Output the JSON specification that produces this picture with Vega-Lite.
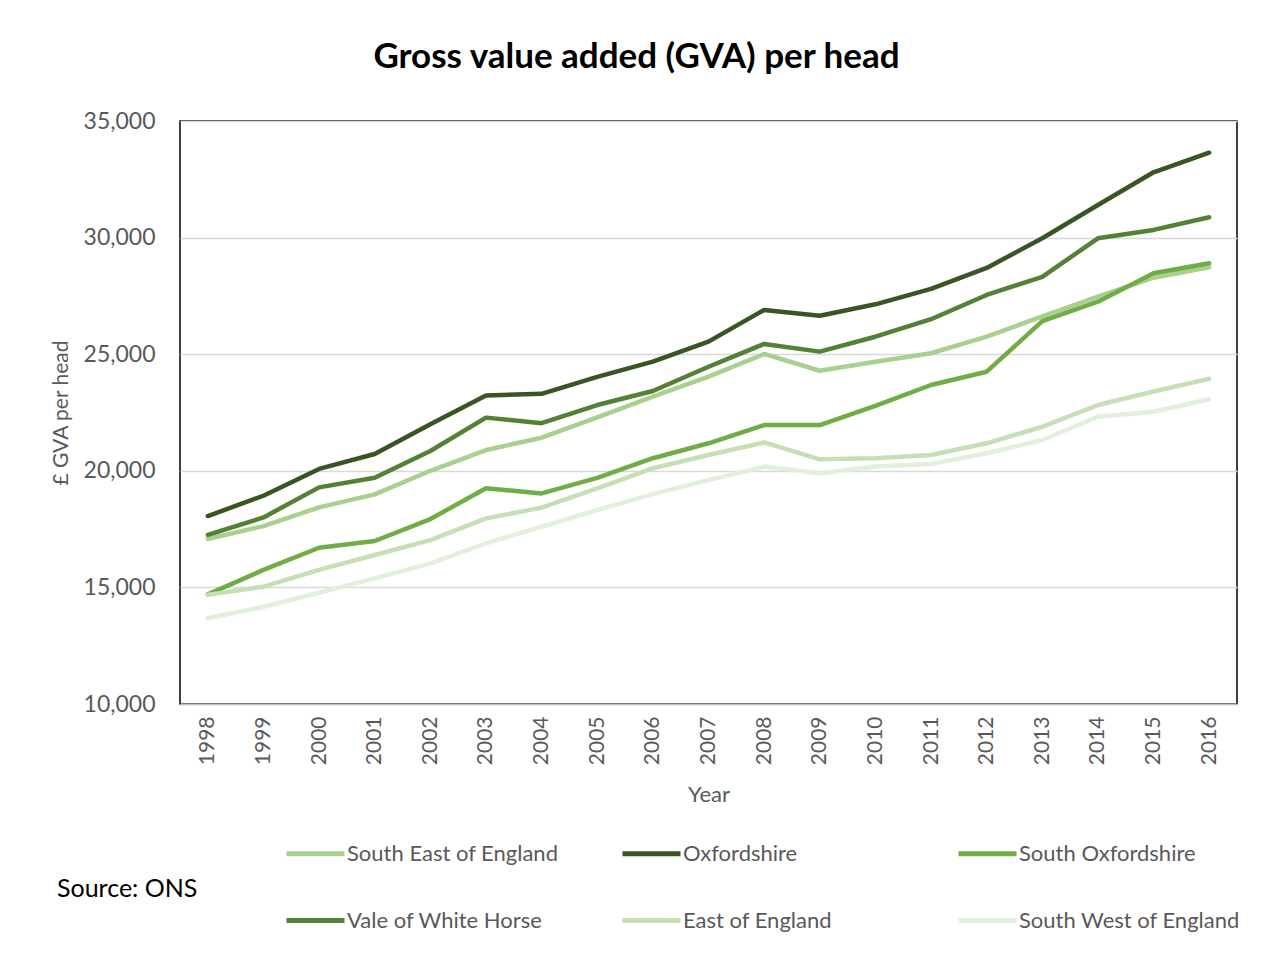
{
  "$schema": "https://vega.github.io/schema/vega-lite/v6.json",
  "autosize": {"type": "none"},
  "width": 1057,
  "height": 583,
  "padding": {"left": 180, "top": 121, "right": 31, "bottom": 261},
  "background": "white",
  "title": {
    "text": "Gross value added (GVA) per head",
    "font": "Lato",
    "fontSize": 35,
    "fontWeight": "bold",
    "color": "#000000",
    "anchor": "middle",
    "dx": -72,
    "offset": 35
  },
  "config": {
    "view": {"stroke": "#000000", "strokeWidth": 1.5},
    "font": "Lato"
  },
  "datasets": {
    "gva": [
      {"year": "1998", "region": "South East of England", "value": 17075},
      {"year": "1999", "region": "South East of England", "value": 17630},
      {"year": "2000", "region": "South East of England", "value": 18430},
      {"year": "2001", "region": "South East of England", "value": 18990},
      {"year": "2002", "region": "South East of England", "value": 20000},
      {"year": "2003", "region": "South East of England", "value": 20890},
      {"year": "2004", "region": "South East of England", "value": 21420},
      {"year": "2005", "region": "South East of England", "value": 22290},
      {"year": "2006", "region": "South East of England", "value": 23180},
      {"year": "2007", "region": "South East of England", "value": 24035},
      {"year": "2008", "region": "South East of England", "value": 25010},
      {"year": "2009", "region": "South East of England", "value": 24290},
      {"year": "2010", "region": "South East of England", "value": 24680},
      {"year": "2011", "region": "South East of England", "value": 25040},
      {"year": "2012", "region": "South East of England", "value": 25750},
      {"year": "2013", "region": "South East of England", "value": 26620},
      {"year": "2014", "region": "South East of England", "value": 27470},
      {"year": "2015", "region": "South East of England", "value": 28280},
      {"year": "2016", "region": "South East of England", "value": 28730},
      {"year": "1998", "region": "Oxfordshire", "value": 18060},
      {"year": "1999", "region": "Oxfordshire", "value": 18930},
      {"year": "2000", "region": "Oxfordshire", "value": 20080},
      {"year": "2001", "region": "Oxfordshire", "value": 20720},
      {"year": "2002", "region": "Oxfordshire", "value": 22000},
      {"year": "2003", "region": "Oxfordshire", "value": 23230},
      {"year": "2004", "region": "Oxfordshire", "value": 23300},
      {"year": "2005", "region": "Oxfordshire", "value": 24030},
      {"year": "2006", "region": "Oxfordshire", "value": 24680},
      {"year": "2007", "region": "Oxfordshire", "value": 25540},
      {"year": "2008", "region": "Oxfordshire", "value": 26900},
      {"year": "2009", "region": "Oxfordshire", "value": 26650},
      {"year": "2010", "region": "Oxfordshire", "value": 27140},
      {"year": "2011", "region": "Oxfordshire", "value": 27800},
      {"year": "2012", "region": "Oxfordshire", "value": 28700},
      {"year": "2013", "region": "Oxfordshire", "value": 29970},
      {"year": "2014", "region": "Oxfordshire", "value": 31400},
      {"year": "2015", "region": "Oxfordshire", "value": 32800},
      {"year": "2016", "region": "Oxfordshire", "value": 33640},
      {"year": "1998", "region": "South Oxfordshire", "value": 14700},
      {"year": "1999", "region": "South Oxfordshire", "value": 15750},
      {"year": "2000", "region": "South Oxfordshire", "value": 16700},
      {"year": "2001", "region": "South Oxfordshire", "value": 16990},
      {"year": "2002", "region": "South Oxfordshire", "value": 17930},
      {"year": "2003", "region": "South Oxfordshire", "value": 19250},
      {"year": "2004", "region": "South Oxfordshire", "value": 19030},
      {"year": "2005", "region": "South Oxfordshire", "value": 19700},
      {"year": "2006", "region": "South Oxfordshire", "value": 20540},
      {"year": "2007", "region": "South Oxfordshire", "value": 21180},
      {"year": "2008", "region": "South Oxfordshire", "value": 21960},
      {"year": "2009", "region": "South Oxfordshire", "value": 21960},
      {"year": "2010", "region": "South Oxfordshire", "value": 22780},
      {"year": "2011", "region": "South Oxfordshire", "value": 23680},
      {"year": "2012", "region": "South Oxfordshire", "value": 24250},
      {"year": "2013", "region": "South Oxfordshire", "value": 26420},
      {"year": "2014", "region": "South Oxfordshire", "value": 27250},
      {"year": "2015", "region": "South Oxfordshire", "value": 28470},
      {"year": "2016", "region": "South Oxfordshire", "value": 28900},
      {"year": "1998", "region": "Vale of White Horse", "value": 17250},
      {"year": "1999", "region": "Vale of White Horse", "value": 18000},
      {"year": "2000", "region": "Vale of White Horse", "value": 19290},
      {"year": "2001", "region": "Vale of White Horse", "value": 19700},
      {"year": "2002", "region": "Vale of White Horse", "value": 20850},
      {"year": "2003", "region": "Vale of White Horse", "value": 22280},
      {"year": "2004", "region": "Vale of White Horse", "value": 22040},
      {"year": "2005", "region": "Vale of White Horse", "value": 22820},
      {"year": "2006", "region": "Vale of White Horse", "value": 23420},
      {"year": "2007", "region": "Vale of White Horse", "value": 24460},
      {"year": "2008", "region": "Vale of White Horse", "value": 25440},
      {"year": "2009", "region": "Vale of White Horse", "value": 25110},
      {"year": "2010", "region": "Vale of White Horse", "value": 25750},
      {"year": "2011", "region": "Vale of White Horse", "value": 26500},
      {"year": "2012", "region": "Vale of White Horse", "value": 27540},
      {"year": "2013", "region": "Vale of White Horse", "value": 28320},
      {"year": "2014", "region": "Vale of White Horse", "value": 29970},
      {"year": "2015", "region": "Vale of White Horse", "value": 30330},
      {"year": "2016", "region": "Vale of White Horse", "value": 30870},
      {"year": "1998", "region": "East of England", "value": 14680},
      {"year": "1999", "region": "East of England", "value": 15030},
      {"year": "2000", "region": "East of England", "value": 15750},
      {"year": "2001", "region": "East of England", "value": 16390},
      {"year": "2002", "region": "East of England", "value": 17030},
      {"year": "2003", "region": "East of England", "value": 17960},
      {"year": "2004", "region": "East of England", "value": 18420},
      {"year": "2005", "region": "East of England", "value": 19250},
      {"year": "2006", "region": "East of England", "value": 20110},
      {"year": "2007", "region": "East of England", "value": 20680},
      {"year": "2008", "region": "East of England", "value": 21220},
      {"year": "2009", "region": "East of England", "value": 20490},
      {"year": "2010", "region": "East of England", "value": 20540},
      {"year": "2011", "region": "East of England", "value": 20680},
      {"year": "2012", "region": "East of England", "value": 21180},
      {"year": "2013", "region": "East of England", "value": 21890},
      {"year": "2014", "region": "East of England", "value": 22820},
      {"year": "2015", "region": "East of England", "value": 23400},
      {"year": "2016", "region": "East of England", "value": 23950},
      {"year": "1998", "region": "South West of England", "value": 13680},
      {"year": "1999", "region": "South West of England", "value": 14170},
      {"year": "2000", "region": "South West of England", "value": 14770},
      {"year": "2001", "region": "South West of England", "value": 15390},
      {"year": "2002", "region": "South West of England", "value": 16030},
      {"year": "2003", "region": "South West of England", "value": 16890},
      {"year": "2004", "region": "South West of England", "value": 17600},
      {"year": "2005", "region": "South West of England", "value": 18320},
      {"year": "2006", "region": "South West of England", "value": 19000},
      {"year": "2007", "region": "South West of England", "value": 19600},
      {"year": "2008", "region": "South West of England", "value": 20180},
      {"year": "2009", "region": "South West of England", "value": 19890},
      {"year": "2010", "region": "South West of England", "value": 20180},
      {"year": "2011", "region": "South West of England", "value": 20290},
      {"year": "2012", "region": "South West of England", "value": 20750},
      {"year": "2013", "region": "South West of England", "value": 21320},
      {"year": "2014", "region": "South West of England", "value": 22320},
      {"year": "2015", "region": "South West of England", "value": 22530},
      {"year": "2016", "region": "South West of England", "value": 23070}
    ]
  },
  "data": {"name": "gva"},
  "mark": {"type": "line", "strokeWidth": 4.5, "strokeCap": "round", "strokeJoin": "round"},
  "encoding": {
    "x": {
      "field": "year",
      "type": "ordinal",
      "scale": {"type": "point", "padding": 0.5},
      "axis": {
        "title": "Year",
        "titleFont": "Lato",
        "titleFontSize": 22,
        "titleFontWeight": "normal",
        "titleColor": "#595959",
        "titlePadding": 20,
        "labelAngle": -90,
        "labelFont": "Lato",
        "labelFontSize": 21,
        "labelColor": "#595959",
        "labelPadding": 12,
        "ticks": false,
        "domainColor": "#bfbfbf",
        "domainWidth": 1.5,
        "grid": false
      }
    },
    "y": {
      "field": "value",
      "type": "quantitative",
      "scale": {"domain": [10000, 35000], "nice": false, "zero": false},
      "axis": {
        "title": "£ GVA per head",
        "titleFont": "Lato",
        "titleFontSize": 21,
        "titleFontWeight": "normal",
        "titleColor": "#595959",
        "titlePadding": 12,
        "values": [10000, 15000, 20000, 25000, 30000, 35000],
        "format": ",.0f",
        "labelFont": "Lato",
        "labelFontSize": 23,
        "labelColor": "#595959",
        "labelPadding": 25,
        "ticks": false,
        "domain": false,
        "grid": true,
        "gridColor": "#d9d9d9",
        "gridWidth": 1.5
      }
    },
    "color": {
      "field": "region",
      "type": "nominal",
      "scale": {
        "domain": ["South East of England", "Oxfordshire", "South Oxfordshire", "Vale of White Horse", "East of England", "South West of England"],
        "range": ["#A9D08E", "#375623", "#70AD47", "#538135", "#C5E0B4", "#E2EFDA"]
      },
      "legend": {
        "orient": "none",
        "legendX": -123,
        "legendY": 701,
        "direction": "horizontal",
        "columns": 3,
        "gridAlign": "all",
        "columnPadding": 43,
        "rowPadding": 24,
        "symbolType": "stroke",
        "symbolSize": 3364,
        "symbolStrokeWidth": 5,
        "labelFont": "Lato",
        "labelFontSize": 22,
        "labelColor": "#595959",
        "labelOffset": 0,
        "labelLimit": 400,
        "title": "Source: ONS",
        "titleOrient": "left",
        "titleAnchor": "middle",
        "titleBaseline": "top",
        "titleFont": "Lato",
        "titleFontSize": 25,
        "titleFontWeight": "normal",
        "titleColor": "#000000",
        "titlePadding": 86,
        "titleLimit": 400
      }
    }
  }
}
